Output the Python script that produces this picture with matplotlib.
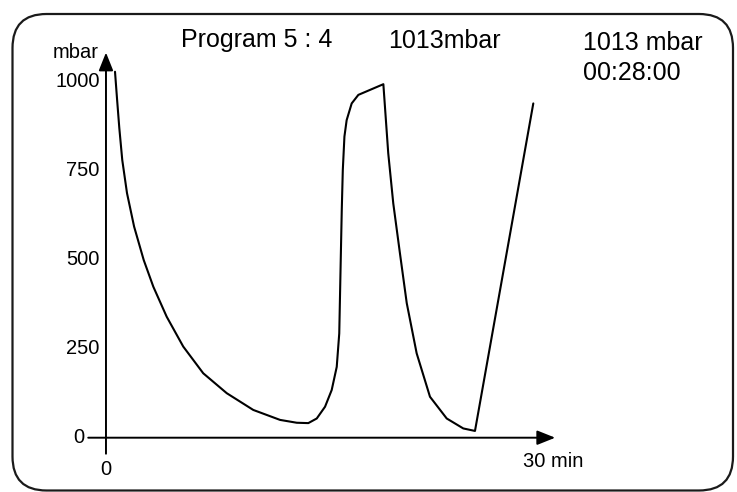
import numpy as np
import matplotlib
matplotlib.use('Agg')
import matplotlib.pyplot as plt
from matplotlib.patches import FancyBboxPatch

plt.rcParams['font.family'] = ['Liberation Sans', 'DejaVu Sans']

# DATOS
tiempo_min = [0.61, 0.75, 0.90, 1.10, 1.42, 1.90, 2.55, 3.20, 4.10, 5.22, 6.57, 8.16,
              9.95, 11.76, 12.89, 13.67, 14.24, 14.80, 15.25, 15.59, 15.76, 15.86,
              15.93, 16.00, 16.11, 16.26, 16.60, 17.05, 18.74,
              19.07, 19.41, 19.86, 20.32, 20.99, 21.89, 23.02, 24.14, 24.93, 28.87]
presion_mbar = [1028, 950, 870, 780, 687, 593, 499, 424, 340, 256, 181, 125,
                78, 50, 42, 41, 54, 87, 134, 199, 293, 499,
                640, 752, 846, 892, 939, 963, 993,
                799, 658, 518, 378, 237, 115, 54, 26, 19, 939]
y_ticks = [0, 250, 500, 750, 1000]
x_ticks = [0]
x_max = 30

# FIGURA
fig = plt.figure(figsize=(7.37, 4.92), dpi=100)

# MARCO REDONDEADO
marco = FancyBboxPatch((0.125, 0.015), 7.205, 4.765,
                       boxstyle='round,pad=0,rounding_size=0.34',
                       transform=fig.dpi_scale_trans, fill=False,
                       edgecolor='#1a1a1a', linewidth=1.6)
fig.patches.append(marco)

ax = fig.add_axes([0.1197, 0.0778, 0.6266, 0.8104])
ax.set_xlim(-1.2, x_max)
ax.set_ylim(-45, 1075)
ax.axis('off')

# EJES CON FLECHAS
flecha = dict(arrowstyle='-|>,head_length=0.55,head_width=0.22', color='black',
              lw=1.4, mutation_scale=20, shrinkA=0, shrinkB=0)
ax.annotate('', xy=(0, 1082), xytext=(0, -45), arrowprops=flecha, annotation_clip=False)
ax.annotate('', xy=(30.35, 0), xytext=(-1.2, 0), arrowprops=flecha, annotation_clip=False)

# CURVA
ax.plot(tiempo_min, presion_mbar, color='black', linewidth=1.5,
        solid_joinstyle='round', solid_capstyle='round')

# ETIQUETAS DEL EJE Y
for v in y_ticks:
    dx = -15.5 if v == 0 else -4.5
    ax.annotate(str(v), xy=(0, v), xytext=(dx, 0), textcoords='offset points',
                ha='right', va='center', fontsize=14.5, annotation_clip=False)

ax.annotate('mbar', xy=(0, 1082), xytext=(-5, -4), textcoords='offset points',
            ha='right', va='baseline', fontsize=14.5, annotation_clip=False)

# ETIQUETAS DEL EJE X
for v in x_ticks:
    ax.annotate(str(v), xy=(v, 0), xytext=(0, -27), textcoords='offset points',
                ha='center', va='baseline', fontsize=14.5, annotation_clip=False)
ax.annotate(f'{x_max} min', xy=(x_max, 0), xytext=(2, -21), textcoords='offset points',
            ha='center', va='baseline', fontsize=14.5, annotation_clip=False)

# TEXTOS SUPERIORES
fig.text(181 / 737, 1 - 46.7 / 492, 'Program 5 : 4', fontsize=18, va='baseline')
fig.text(388 / 737, 1 - 48 / 492, '1013mbar', fontsize=18, va='baseline')
fig.text(583 / 737, 1 - 50 / 492, '1013 mbar', fontsize=18, va='baseline')
fig.text(583 / 737, 1 - 80 / 492, '00:28:00', fontsize=18, va='baseline')

fig.savefig('out.png', dpi=100)
